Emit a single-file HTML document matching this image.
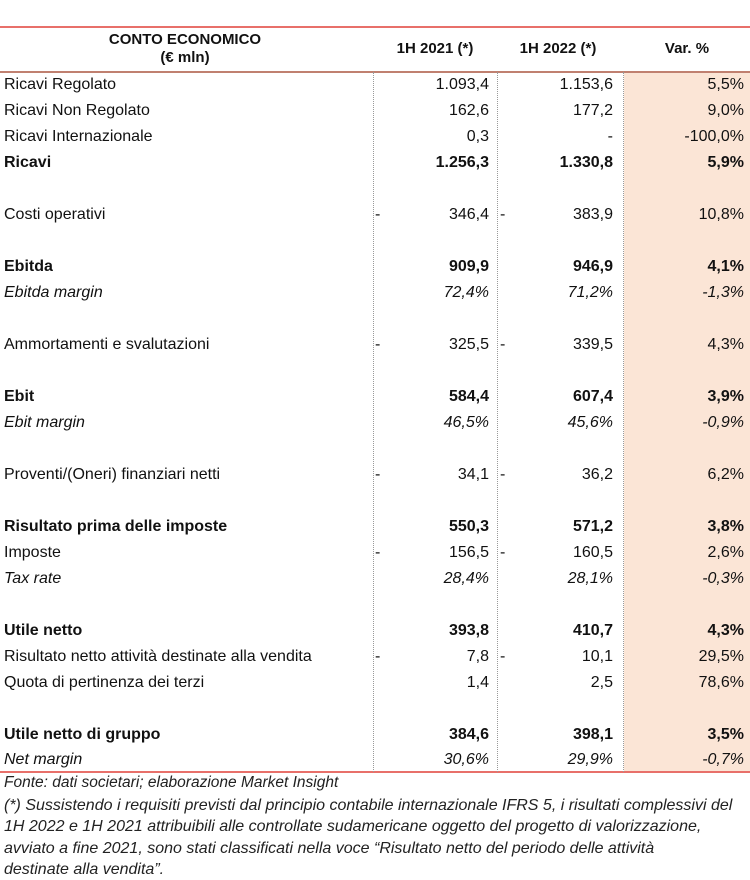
<!DOCTYPE html>
<html><head><meta charset="utf-8"><style>
body{margin:0;width:750px;height:879px;background:#fff;position:relative;font-family:"Liberation Sans",sans-serif;color:#111;overflow:hidden}
.a{position:absolute}
.shade{left:624px;top:72px;width:126px;height:700px;background:#fbe5d6}
.vl{top:72px;height:700px;border-left:1px dotted #999;width:0}
.r{position:absolute;left:0;width:750px;height:26px;font-size:16px;line-height:26px}
.r span{position:absolute;white-space:nowrap}
.l{left:4px}
.c1{right:261px;text-align:right}
.c2{right:137px;text-align:right}
.c3{right:6px;text-align:right}
.d1{left:375px}.d2{left:500px}
.b{font-weight:bold}
.i{font-style:italic}
.h{font-weight:bold;font-size:15px;text-align:center;position:absolute}
.f{position:absolute;left:4px;font-style:italic;font-size:16px;white-space:nowrap;color:#222}
</style></head><body>
<div class="a shade"></div>
<div class="a" style="left:0;top:26px;width:750px;height:2px;background:#e8706a"></div>
<div class="a" style="left:0;top:71px;width:750px;height:2px;background:#c08070"></div>
<div class="a" style="left:0;top:771px;width:750px;height:2px;background:#e8706a"></div>
<div class="a vl" style="left:373px"></div>
<div class="a vl" style="left:497px"></div>
<div class="a vl" style="left:623px"></div>
<div class="h" style="left:85px;width:200px;top:31px;line-height:18px">CONTO ECONOMICO<br>(€ mln)</div>
<div class="h" style="left:375px;width:120px;top:40px">1H 2021 (*)</div>
<div class="h" style="left:498px;width:120px;top:40px">1H 2022 (*)</div>
<div class="h" style="left:627px;width:120px;top:40px">Var. %</div>

<div class="r" style="top:72px"><span class="l">Ricavi Regolato</span><span class="c1">1.093,4</span><span class="c2">1.153,6</span><span class="c3">5,5%</span></div>
<div class="r" style="top:98px"><span class="l">Ricavi Non Regolato</span><span class="c1">162,6</span><span class="c2">177,2</span><span class="c3">9,0%</span></div>
<div class="r" style="top:124px"><span class="l">Ricavi Internazionale</span><span class="c1">0,3</span><span class="c2">-</span><span class="c3">-100,0%</span></div>
<div class="r b" style="top:150px"><span class="l">Ricavi</span><span class="c1">1.256,3</span><span class="c2">1.330,8</span><span class="c3">5,9%</span></div>
<div class="r" style="top:202px"><span class="l">Costi operativi</span><span class="d1">-</span><span class="c1">346,4</span><span class="d2">-</span><span class="c2">383,9</span><span class="c3">10,8%</span></div>
<div class="r b" style="top:254px"><span class="l">Ebitda</span><span class="c1">909,9</span><span class="c2">946,9</span><span class="c3">4,1%</span></div>
<div class="r i" style="top:280px"><span class="l">Ebitda margin</span><span class="c1">72,4%</span><span class="c2">71,2%</span><span class="c3">-1,3%</span></div>
<div class="r" style="top:332px"><span class="l">Ammortamenti e svalutazioni</span><span class="d1">-</span><span class="c1">325,5</span><span class="d2">-</span><span class="c2">339,5</span><span class="c3">4,3%</span></div>
<div class="r b" style="top:384px"><span class="l">Ebit</span><span class="c1">584,4</span><span class="c2">607,4</span><span class="c3">3,9%</span></div>
<div class="r i" style="top:410px"><span class="l">Ebit margin</span><span class="c1">46,5%</span><span class="c2">45,6%</span><span class="c3">-0,9%</span></div>
<div class="r" style="top:462px"><span class="l">Proventi/(Oneri) finanziari netti</span><span class="d1">-</span><span class="c1">34,1</span><span class="d2">-</span><span class="c2">36,2</span><span class="c3">6,2%</span></div>
<div class="r b" style="top:514px"><span class="l">Risultato prima delle imposte</span><span class="c1">550,3</span><span class="c2">571,2</span><span class="c3">3,8%</span></div>
<div class="r" style="top:540px"><span class="l">Imposte</span><span class="d1">-</span><span class="c1">156,5</span><span class="d2">-</span><span class="c2">160,5</span><span class="c3">2,6%</span></div>
<div class="r i" style="top:566px"><span class="l">Tax rate</span><span class="c1">28,4%</span><span class="c2">28,1%</span><span class="c3">-0,3%</span></div>
<div class="r b" style="top:618px"><span class="l">Utile netto</span><span class="c1">393,8</span><span class="c2">410,7</span><span class="c3">4,3%</span></div>
<div class="r" style="top:644px"><span class="l" style="width:370px;overflow:hidden">Risultato netto attività destinate alla vendita</span><span class="d1">-</span><span class="c1">7,8</span><span class="d2">-</span><span class="c2">10,1</span><span class="c3">29,5%</span></div>
<div class="r" style="top:670px"><span class="l">Quota di pertinenza dei terzi</span><span class="c1">1,4</span><span class="c2">2,5</span><span class="c3">78,6%</span></div>
<div class="r b" style="top:722px"><span class="l">Utile netto di gruppo</span><span class="c1">384,6</span><span class="c2">398,1</span><span class="c3">3,5%</span></div>
<div class="r i" style="top:747px"><span class="l">Net margin</span><span class="c1">30,6%</span><span class="c2">29,9%</span><span class="c3">-0,7%</span></div>

<div class="f" style="top:774px;font-size:15.5px">Fonte: dati societari; elaborazione Market Insight</div>
<div class="f" style="top:795px;line-height:21.3px;font-size:16px">(*) Sussistendo i requisiti previsti dal principio contabile internazionale IFRS 5, i risultati complessivi del<br>1H 2022 e 1H 2021 attribuibili alle controllate sudamericane oggetto del progetto di valorizzazione,<br>avviato a fine 2021, sono stati classificati nella voce “Risultato netto del periodo delle attività<br>destinate alla vendita”.</div>
</body></html>
